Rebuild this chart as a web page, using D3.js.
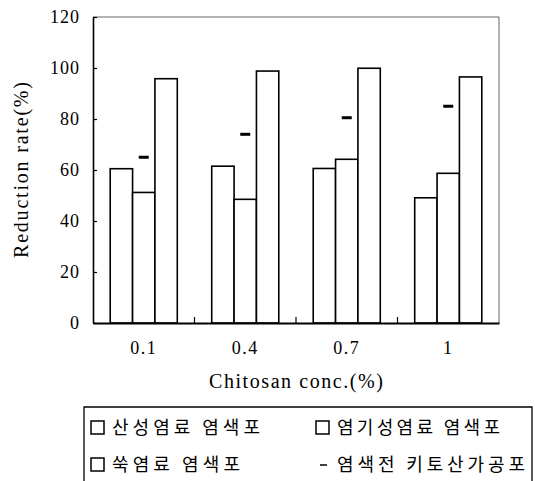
<!DOCTYPE html>
<html><head><meta charset="utf-8">
<script src="https://cdn.jsdelivr.net/npm/d3@7"></script>
<style>body{margin:0;background:#fff}svg{display:block}</style>
</head><body>
<svg id="c" width="535" height="481"></svg>
<script>
const categories = ["0.1", "0.4", "0.7", "1"];
const seriesNames = ["산성염료 염색포", "염기성염료 염색포", "쑥염료 염색포"];
const acidDye = [60.5, 61.5, 60.6, 49.1];
const basicDye = [51.2, 48.5, 64.2, 58.7];
const mugwortDye = [95.8, 98.8, 99.9, 96.5];
const chitosanBefore = [65, 74, 80.5, 85];
const chitosanName = "염색전 키토산가공포";
const yTicks = [0, 20, 40, 60, 80, 100, 120];
const yTitle = "Reduction rate(%)";
const xTitle = "Chitosan conc.(%)";

const svg = d3.select("#c");
const L = 93, R = 499, T = 17, B = 323;
const serif = "Liberation Serif";

const x = d3.scaleBand().domain(categories).range([L, R]).padding(0);
const y = d3.scaleLinear().domain([0, 120]).range([B, T]);
const xs = d3.scaleBand().domain([0, 1, 2]).range([0, x.bandwidth()]).paddingInner(0).paddingOuter(0.77);
const seriesVals = [acidDye, basicDye, mugwortDye];

// frame top/right
svg.append("line").attr("x1", L).attr("x2", R).attr("y1", T).attr("y2", T).attr("stroke", "#666").attr("stroke-width", 1);
svg.append("line").attr("x1", R).attr("x2", R).attr("y1", T).attr("y2", B).attr("stroke", "#666").attr("stroke-width", 1);

// bars
const g = svg.append("g");
categories.forEach((c, i) => {
  seriesVals.forEach((vals, s) => {
    g.append("rect")
      .attr("x", x(c) + xs(s))
      .attr("y", y(vals[i]))
      .attr("width", xs.bandwidth())
      .attr("height", y(0) - y(vals[i]))
      .attr("fill", "#fff").attr("stroke", "#000").attr("stroke-width", 1.6);
  });
  g.append("line")
    .attr("x1", x(c) + x.bandwidth() / 2 - 5).attr("x2", x(c) + x.bandwidth() / 2 + 5)
    .attr("y1", y(chitosanBefore[i])).attr("y2", y(chitosanBefore[i]))
    .attr("stroke", "#000").attr("stroke-width", 3);
});

// y axis
const ya = svg.append("g").attr("transform", `translate(${L},0)`)
  .call(d3.axisLeft(y).tickValues(yTicks).tickSizeInner(-4).tickSizeOuter(0).tickPadding(13));
ya.select(".domain").attr("stroke", "#000").attr("stroke-width", 1.6);
ya.selectAll(".tick line").attr("stroke", "#000").attr("stroke-width", 1.2);
ya.selectAll("text").attr("font-family", serif).attr("font-size", 18).attr("letter-spacing", 1).attr("fill", "#000");

// x axis
const xa = svg.append("g").attr("transform", `translate(0,${B})`)
  .call(d3.axisBottom(x).tickSize(0).tickPadding(18));
xa.select(".domain").attr("stroke", "#000").attr("stroke-width", 2);
xa.selectAll("text").attr("font-family", serif).attr("font-size", 18).attr("letter-spacing", 1.5).attr("fill", "#000");
// boundary ticks between groups
categories.slice(1).forEach(c => {
  svg.append("line").attr("x1", x(c)).attr("x2", x(c)).attr("y1", B).attr("y2", B - 6)
    .attr("stroke", "#000").attr("stroke-width", 1.2);
});

// titles
svg.append("text").attr("transform", `translate(21,${(T + B) / 2}) rotate(-90)`)
  .attr("text-anchor", "middle").attr("dy", "0.35em")
  .attr("font-family", serif).attr("font-size", 20)
  .attr("textLength", 176).attr("lengthAdjust", "spacing").text(yTitle);
svg.append("text").attr("x", (L + R) / 2).attr("y", 388)
  .attr("text-anchor", "middle")
  .attr("font-family", serif).attr("font-size", 20)
  .attr("textLength", 174).attr("lengthAdjust", "spacing").text(xTitle);

// legend
const lg = svg.append("g");
const LX0 = 84, LX1 = 532, LT = 407;
lg.append("path").attr("d", `M${LX0},481V${LT}H${LX1}V481`).attr("fill", "none").attr("stroke", "#000").attr("stroke-width", 1.3);
const kr = "Noto Sans CJK KR";
const legendItems = [
  {name: seriesNames[0], col: 0, row: 0, w: 148, mark: "box"},
  {name: seriesNames[1], col: 1, row: 0, w: 163, mark: "box"},
  {name: seriesNames[2], col: 0, row: 1, w: 128, mark: "box"},
  {name: chitosanName, col: 1, row: 1, w: 188, mark: "dash"}
];
const colX = [90, 315], rowY = [428, 465];
legendItems.forEach(it => {
  const mx = colX[it.col], my = rowY[it.row];
  if (it.mark === "box") {
    lg.append("rect").attr("x", mx + 1).attr("y", my - 7).attr("width", 13).attr("height", 13)
      .attr("fill", "#fff").attr("stroke", "#000").attr("stroke-width", 1.5);
  } else {
    lg.append("line").attr("x1", mx + 5).attr("x2", mx + 12).attr("y1", my).attr("y2", my)
      .attr("stroke", "#000").attr("stroke-width", 1.5);
  }
  lg.append("text").attr("x", mx + 22).attr("y", my).attr("dy", "0.36em")
    .attr("font-family", kr).attr("font-size", 18)
    .attr("textLength", it.w).attr("lengthAdjust", "spacing")
    .text(it.name);
});
</script>
</body></html>
